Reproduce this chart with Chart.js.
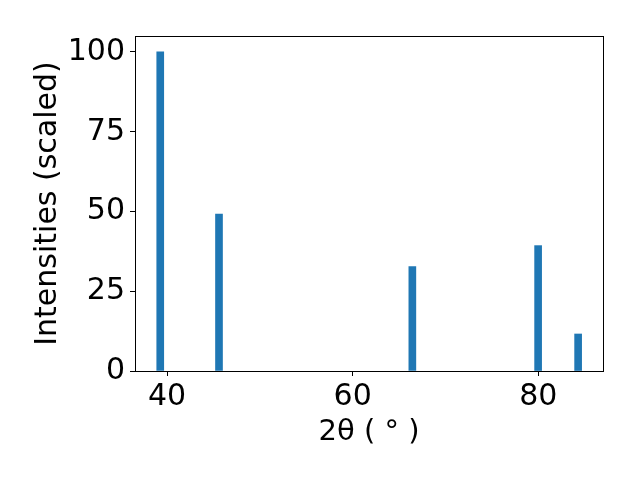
<!DOCTYPE html>
<html>
<head>
<meta charset="utf-8">
<script src="https://cdn.jsdelivr.net/npm/chart.js@4.4.1/dist/chart.umd.min.js"></script>
<style>
  body { margin: 0; background: #fff; }
  #wrap { width: 640px; height: 480px; }
</style>
</head>
<body>
<div id="wrap"><canvas id="grafico" width="640" height="480"></canvas></div>
<script>
// picos (2theta em graus, intensidade escalada)
const angulos = [39.27, 45.6, 66.43, 79.98, 84.29];
const intensidades = [100, 49.2, 32.7, 39.3, 11.6];
const ticksX = [40, 60, 80];
const ticksY = [0, 25, 50, 75, 100];

const fonte = { family: "'DejaVu Sans', sans-serif", size: 30 };
const fonteTituloX = { family: "'DejaVu Sans', sans-serif", size: 29 };

const moldura = {
    id: 'moldura',
    afterDraw(chart) {
        const { ctx, chartArea: a } = chart;
        ctx.save();
        ctx.strokeStyle = '#000';
        ctx.lineWidth = 1;
        ctx.strokeRect(a.left + 0.5, a.top + 0.5, a.right - a.left, a.bottom - a.top);
        ctx.restore();
    }
};

new Chart(document.getElementById('grafico'), {
    type: 'bar',
    data: {
        datasets: [{
            data: angulos.map((x, i) => ({ x: x, y: intensidades[i] })),
            backgroundColor: '#1f77b4',
            borderWidth: 0,
            barThickness: 7
        }]
    },
    options: {
        responsive: false,
        animation: false,
        layout: { padding: { top: 36, right: 37, left: 0, bottom: 0 } },
        plugins: { legend: { display: false }, tooltip: { enabled: false } },
        scales: {
            x: {
                type: 'linear',
                min: 36.55,
                max: 86.97,
                offset: false,
                grid: { offset: false, drawOnChartArea: false, drawTicks: true, tickLength: 5, tickColor: '#000' },
                border: { display: true, color: '#000' },
                ticks: { color: '#000', font: fonte, padding: 3, maxRotation: 0 },
                afterBuildTicks: scale => { scale.ticks = ticksX.map(v => ({ value: v })); },
                afterFit: scale => { scale.height = 109; },
                title: { display: true, text: '2θ ( ° )', color: '#000', font: fonteTituloX, padding: { top: 0, bottom: 30 } }
            },
            y: {
                min: 0,
                max: 105,
                grid: { drawOnChartArea: false, drawTicks: true, tickLength: 5, tickColor: '#000' },
                border: { display: true, color: '#000' },
                ticks: { color: '#000', font: fonte, padding: 5 },
                afterBuildTicks: scale => { scale.ticks = ticksY.map(v => ({ value: v })); },
                afterFit: scale => { scale.width = 135; },
                title: { display: true, text: 'Intensities (scaled)', color: '#000', font: fonte, padding: { top: 30, bottom: 0 } }
            }
        }
    },
    plugins: [moldura]
});
</script>
</body>
</html>
